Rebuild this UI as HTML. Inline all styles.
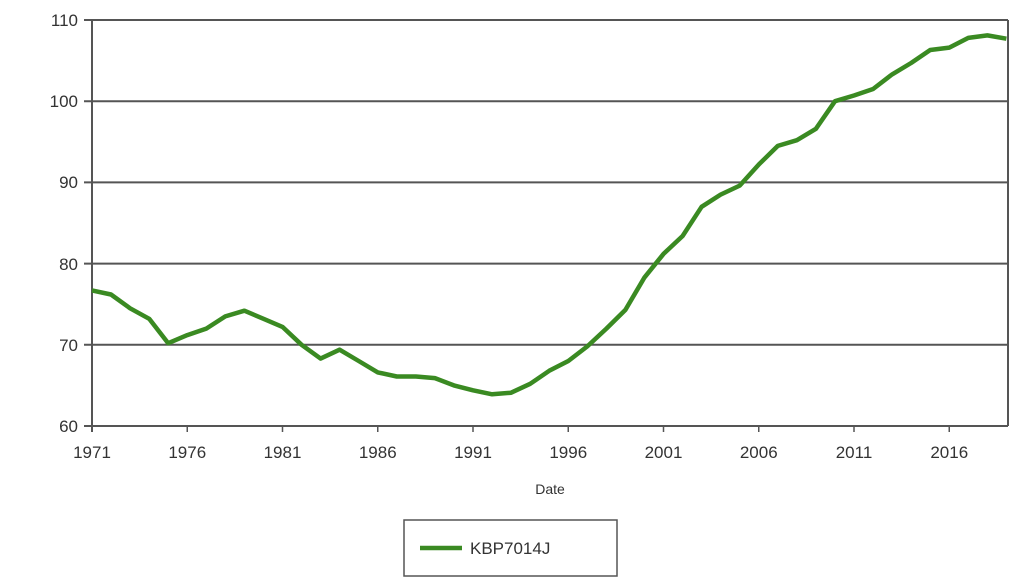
<!DOCTYPE html>
<html><head><style>body{margin:0;background:#fff;}svg{display:block;font-family:"Liberation Sans",sans-serif;}</style></head>
<body>
<svg id="s" width="1024" height="584" xmlns="http://www.w3.org/2000/svg">
<g stroke="#555" stroke-width="2" fill="none">
<line x1="84" y1="20" x2="1008" y2="20"/>
<line x1="84" y1="101.2" x2="1008" y2="101.2"/>
<line x1="84" y1="182.4" x2="1008" y2="182.4"/>
<line x1="84" y1="263.6" x2="1008" y2="263.6"/>
<line x1="84" y1="344.8" x2="1008" y2="344.8"/>
<line x1="84" y1="426" x2="1008" y2="426"/>
<line x1="92" y1="20" x2="92" y2="432"/>
<line x1="1008" y1="20" x2="1008" y2="426"/>
</g>
<g id="ticks" stroke="#555" stroke-width="1.5"></g>
<g font-size="17" fill="#333" text-anchor="end">
<text x="78" y="26">110</text><text x="78" y="107">100</text><text x="78" y="188">90</text>
<text x="78" y="270">80</text><text x="78" y="351">70</text><text x="78" y="432">60</text>
</g>
<g id="xl" font-size="17" fill="#333" text-anchor="middle"></g>
<text x="550" y="494" font-size="14" fill="#333" text-anchor="middle">Date</text>
<polyline id="ln" fill="none" stroke="#3a8a22" stroke-width="4.5" stroke-linejoin="round"/>
<rect x="404" y="520" width="213" height="56" fill="#fff" stroke="#555" stroke-width="1.5"/>
<line x1="420" y1="548" x2="462" y2="548" stroke="#3a8a22" stroke-width="4.5"/>
<text x="470" y="554" font-size="17" fill="#333">KBP7014J</text>
</svg>
<script>
var v=[76.7,76.2,74.5,73.2,70.2,71.2,72.0,73.5,74.2,73.2,72.2,70,68.3,69.4,68,66.6,66.1,66.1,65.9,65,64.4,63.9,64.1,65.2,66.8,68,69.8,72,74.3,78.3,81.2,83.4,87,88.5,89.6,92.2,94.5,95.2,96.6,100,100.7,101.5,103.3,104.7,106.3,106.6,107.8,108.1,107.7];
var p=v.map(function(y,i){return (92+i*19.05).toFixed(1)+","+(20+(110-y)*8.12).toFixed(1)}).join(" ");
document.getElementById("ln").setAttribute("points",p);
var t="",l="";for(var k=0;k<10;k++){var x=92+k*5*19.05;t+='<line x1="'+x+'" y1="426" x2="'+x+'" y2="432"/>';l+='<text x="'+x+'" y="458">'+(1971+k*5)+'</text>';}
document.getElementById("ticks").innerHTML=t;document.getElementById("xl").innerHTML=l;
</script>
</body></html>
